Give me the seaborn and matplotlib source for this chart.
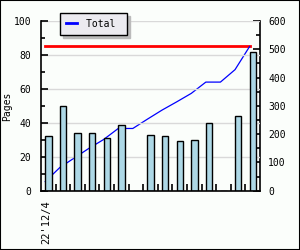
import numpy as np
import pandas as pd
import matplotlib
matplotlib.use("Agg")
import matplotlib.pyplot as plt
import seaborn as sns

# ---- data ----
x_labels = ["22'12/4", "", "", "", "", "", "", "", "", "", "", "", "", "", ""]
pages = [32, 50, 34, 34, 31, 39, 0, 33, 32, 29, 30, 40, 0, 44, 82]
total = [32, 82, 116, 150, 181, 220, 220, 253, 285, 314, 344, 384, 384, 428, 510]
target = 510

plt.rcParams['font.family'] = ['DejaVu Sans Mono', 'DejaVu Sans']
BG = "#fbfefb"

n = len(pages)
idx = np.arange(n)
bar_w = 0.44
df = pd.DataFrame({"pos": idx, "pages": pages, "total": total, "target": [target] * n})

fig = plt.figure(figsize=(3.0, 2.5), dpi=100, facecolor=BG)
fig.patches.append(plt.Rectangle((0, 0), 1, 1, transform=fig.transFigure,
                                 fill=False, edgecolor="black", linewidth=1.5))
ax1 = fig.add_axes([41 / 300, 1 - 190.7 / 250, 219 / 300, (190.7 - 21) / 250])
ax2 = ax1.twinx()
ax1.set_zorder(2)
ax1.patch.set_visible(False)
ax2.set_zorder(1)
ax2.patch.set_facecolor(BG)

# line series on right axis (behind bars)
line_x = df["pos"] - bar_w / 2
sns.lineplot(x=line_x, y=df["target"], ax=ax2, color="red", linewidth=2.0)
sns.lineplot(x=line_x, y=df["total"], ax=ax2, color="blue", linewidth=0.9, label="Total")
if ax2.get_legend():
    ax2.get_legend().remove()

# bars on left axis
sns.barplot(data=df, x="pos", y="pages", ax=ax1, native_scale=True, width=bar_w,
            color="#add8e6", saturation=1, edgecolor="black", linewidth=1.0)

ax1.set_xlim(-0.51, n - 0.51)
ax1.set_ylim(0, 100)
ax2.set_ylim(0, 600)

# grid
ax1.set_axisbelow(True)
ax1.set_yticks(np.arange(0, 101, 20))
ax1.set_yticks(np.arange(10, 100, 20), minor=True)
ax1.yaxis.grid(True, which="major", color="#d9d9d9", linewidth=1)
ax1.xaxis.grid(False)

ax2.set_yticks(np.arange(0, 601, 100))
ax2.set_yticks(np.arange(50, 600, 100), minor=True)

# x ticks
ax1.set_xticks(line_x + 0.1)
ax1.set_xticklabels(x_labels, rotation=90)
ax1.set_xticks(idx[1:] - 0.51, minor=True)

fs = 7
ax1.tick_params(axis="x", which="major", length=0, pad=7, labelsize=7.5)
ax1.tick_params(axis="x", which="minor", direction="in", length=5, width=1.2)
ax1.tick_params(axis="y", which="major", direction="in", length=5, width=1.2, pad=7, labelsize=fs)
ax1.tick_params(axis="y", which="minor", direction="in", length=3, width=1.2)
ax2.tick_params(axis="y", which="major", direction="in", length=5, width=1.2, pad=6, labelsize=fs)
ax2.tick_params(axis="y", which="minor", direction="in", length=3, width=1.2)
ax2.tick_params(axis="x", which="both", bottom=False, top=False, labelbottom=False, labeltop=False)

for s in ["top", "right"]:
    ax1.spines[s].set_visible(False)
for s in ["top", "left", "bottom"]:
    ax2.spines[s].set_visible(False)
for s in ["left", "bottom"]:
    ax1.spines[s].set_linewidth(1.2)
ax2.spines["right"].set_linewidth(1.2)

ax1.set_xlabel("")
ax2.set_xlabel("")
ax2.set_ylabel("")
ax1.set_ylabel("Pages", fontsize=fs, labelpad=1)

handles, labels = ax2.get_legend_handles_labels()
handles = [h for h, l in zip(handles, labels) if l == "Total"]
leg = ax1.legend(handles, ["Total "], loc="upper left",
                 bbox_to_anchor=(60 / 300, 1 - 13 / 250), bbox_transform=fig.transFigure,
                 borderaxespad=0, fancybox=False, framealpha=1, edgecolor="black",
                 facecolor="#ecebf0", fontsize=fs, handlelength=1.15, handletextpad=0.9,
                 borderpad=0.6,
                 shadow={"color": "#bbbbbb", "alpha": 1, "ox": 2.2, "oy": -2.2})
leg.get_frame().set_linewidth(1.0)
for h in leg.get_lines():
    h.set_linewidth(2.0)

fig.savefig("out.png", dpi=100, facecolor=BG)
